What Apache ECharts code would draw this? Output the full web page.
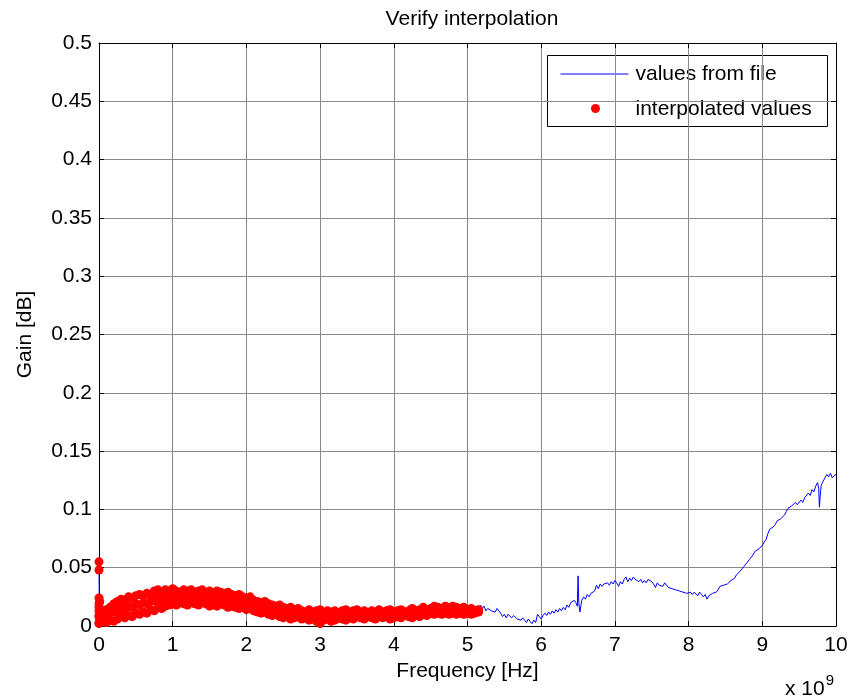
<!DOCTYPE html>
<html>
<head>
<meta charset="utf-8">
<script src="https://cdn.jsdelivr.net/npm/echarts@6/dist/echarts.min.js"></script>
<style>
html,body{margin:0;padding:0;background:#fff;}
#chart{width:851px;height:696px;}
</style>
</head>
<body>
<div id="chart"></div>
<script>
// ---- Data (frequency in units of 1e9 Hz, gain in dB) ----
var title = 'Verify interpolation';
var xName = 'Frequency [Hz]';
var yName = 'Gain [dB]';
var seriesNames = ['values from file', 'interpolated values'];
var xTicks = [0,1,2,3,4,5,6,7,8,9,10];
var yTicks = [0,0.05,0.1,0.15,0.2,0.25,0.3,0.35,0.4,0.45,0.5];

// "values from file" [frequency, gain]
var fileValues = [
 [0,0.055],[0.005,0.003],[0.05,0.010],[0.1,0.008],[0.2,0.012],[0.3,0.015],[0.4,0.017],[0.5,0.019],[0.6,0.020],[0.7,0.021],
 [0.8,0.023],[0.9,0.025],[1.0,0.026],[1.1,0.024],[1.2,0.025],[1.3,0.024],[1.4,0.025],[1.5,0.023],[1.6,0.024],[1.7,0.022],
 [1.8,0.022],[1.9,0.021],[2.0,0.019],[2.1,0.018],[2.2,0.016],[2.3,0.014],[2.4,0.013],[2.5,0.012],[2.6,0.011],[2.7,0.011],
 [2.8,0.009],[2.9,0.009],[3.0,0.008],[3.1,0.009],[3.2,0.009],[3.3,0.010],[3.4,0.010],[3.5,0.011],[3.6,0.009],[3.7,0.010],
 [3.8,0.011],[3.9,0.010],[4.0,0.010],[4.1,0.011],[4.2,0.011],[4.3,0.011],[4.4,0.013],[4.5,0.013],[4.6,0.014],[4.7,0.014],
 [4.8,0.014],[4.9,0.013],[5.0,0.012],[5.1,0.013],
 [5.15,0.016],[5.175,0.018],[5.2,0.015],[5.225,0.017],[5.25,0.013],[5.275,0.015],[5.3,0.016],[5.325,0.013],[5.35,0.014],[5.375,0.012],
 [5.4,0.015],[5.425,0.014],[5.45,0.011],[5.475,0.008],[5.5,0.010],[5.525,0.007],[5.55,0.010],[5.575,0.009],[5.6,0.007],[5.625,0.009],
 [5.65,0.008],[5.675,0.006],[5.7,0.007],[5.725,0.005],[5.75,0.007],[5.775,0.005],[5.8,0.003],[5.825,0.006],[5.85,0.004],[5.875,0.002],
 [5.9,0.005],[5.925,0.003],[5.95,0.010],[5.975,0.008],[6.0,0.006],[6.025,0.009],[6.05,0.011],[6.075,0.009],[6.1,0.012],[6.125,0.010],
 [6.15,0.013],[6.175,0.011],[6.2,0.014],[6.225,0.012],[6.25,0.015],[6.275,0.013],[6.3,0.016],[6.325,0.014],[6.35,0.018],[6.375,0.016],
 [6.4,0.020],[6.425,0.019],[6.45,0.022],[6.47,0.020],[6.49,0.017],[6.5,0.043],[6.51,0.020],[6.525,0.012],[6.55,0.022],[6.575,0.025],
 [6.6,0.023],[6.625,0.027],[6.65,0.025],[6.675,0.028],[6.7,0.027],[6.725,0.030],[6.75,0.035],[6.775,0.032],[6.8,0.036],[6.825,0.034],
 [6.85,0.036],[6.875,0.035],[6.9,0.037],[6.925,0.035],[6.95,0.038],[6.975,0.036],[7.0,0.039],[7.025,0.037],[7.05,0.034],[7.075,0.038],
 [7.1,0.036],[7.125,0.040],[7.15,0.042],[7.175,0.038],[7.2,0.041],[7.225,0.039],[7.25,0.042],[7.275,0.040],[7.3,0.041],[7.325,0.038],
 [7.35,0.040],[7.375,0.037],[7.4,0.039],[7.425,0.037],[7.45,0.040],[7.475,0.041],[7.5,0.038],[7.525,0.036],[7.55,0.033],[7.575,0.037],
 [7.6,0.035],[7.625,0.036],[7.65,0.034],[7.675,0.037],[7.7,0.035],[7.725,0.033],[7.75,0.034],[7.775,0.032],[7.8,0.033],[7.825,0.031],
 [7.85,0.032],[7.875,0.030],[7.9,0.031],[7.925,0.029],[7.95,0.030],[7.975,0.028],[8.0,0.027],[8.025,0.029],[8.05,0.027],[8.075,0.029],
 [8.1,0.028],[8.125,0.026],[8.15,0.029],[8.175,0.027],[8.2,0.025],[8.225,0.027],[8.25,0.023],[8.275,0.026],[8.3,0.025],[8.325,0.028],
 [8.35,0.027],[8.375,0.029],[8.4,0.031],[8.425,0.034],[8.45,0.033],[8.475,0.035],[8.5,0.034],[8.525,0.036],[8.55,0.037],[8.575,0.039],
 [8.6,0.038],[8.625,0.041],[8.65,0.044],[8.675,0.043],[8.7,0.047],[8.725,0.049],[8.75,0.051],[8.775,0.053],[8.8,0.052],[8.825,0.057],
 [8.85,0.059],[8.875,0.061],[8.9,0.064],[8.925,0.063],[8.95,0.066],[8.975,0.067],[9.0,0.069],[9.025,0.072],[9.05,0.074],[9.075,0.079],
 [9.1,0.083],[9.125,0.082],[9.15,0.085],[9.175,0.087],[9.2,0.090],[9.225,0.089],[9.25,0.092],[9.275,0.091],[9.3,0.095],[9.325,0.098],
 [9.35,0.101],[9.375,0.100],[9.4,0.103],[9.425,0.102],[9.45,0.106],[9.475,0.104],[9.5,0.105],[9.525,0.108],[9.55,0.106],[9.575,0.110],
 [9.6,0.111],[9.625,0.114],[9.65,0.112],[9.675,0.117],[9.7,0.115],[9.725,0.120],[9.75,0.123],[9.765,0.118],[9.775,0.102],[9.79,0.115],
 [9.8,0.121],[9.825,0.124],[9.85,0.127],[9.875,0.130],[9.9,0.128],[9.925,0.131],[9.95,0.127],[9.975,0.129],[10.0,0.130]
];

// "interpolated values": extra samples stacked at the start
var interpStartFreq = [0,0,0,0,0,0,0,0.01,0.01];
var interpStartGain = [0.055,0.048,0.024,0.019,0.013,0.008,0.003,0.021,0.006];

// "interpolated values": sampled frequencies, with the upper / middle / lower spread of the noisy band
var interpFreq = [
 0,0.05,0.1,0.15,0.2,0.25,0.3,0.35,0.4,0.45,
 0.5,0.55,0.6,0.65,0.7,0.75,0.8,0.85,0.9,0.95,
 1,1.05,1.1,1.15,1.2,1.25,1.3,1.35,1.4,1.45,
 1.5,1.55,1.6,1.65,1.7,1.75,1.8,1.85,1.9,1.95,
 2,2.05,2.1,2.15,2.2,2.25,2.3,2.35,2.4,2.45,
 2.5,2.55,2.6,2.65,2.7,2.75,2.8,2.85,2.9,2.95,
 3,3.05,3.1,3.15,3.2,3.25,3.3,3.35,3.4,3.45,
 3.5,3.55,3.6,3.65,3.7,3.75,3.8,3.85,3.9,3.95,
 4,4.05,4.1,4.15,4.2,4.25,4.3,4.35,4.4,4.45,
 4.5,4.55,4.6,4.65,4.7,4.75,4.8,4.85,4.9,4.95,
 5,5.05,5.1,5.15
];
var interpUpper = [
 0.016,0.013,0.014,0.016,0.019,0.021,0.023,0.022,0.025,0.024,
 0.026,0.027,0.026,0.028,0.027,0.030,0.031,0.029,0.031,0.030,
 0.032,0.030,0.029,0.031,0.030,0.031,0.029,0.030,0.031,0.029,
 0.030,0.028,0.030,0.029,0.028,0.029,0.027,0.026,0.027,0.025,
 0.024,0.025,0.022,0.021,0.020,0.021,0.019,0.018,0.017,0.018,
 0.016,0.015,0.016,0.014,0.015,0.013,0.012,0.014,0.012,0.013,
 0.014,0.012,0.013,0.012,0.013,0.011,0.013,0.014,0.012,0.013,
 0.014,0.012,0.013,0.011,0.013,0.012,0.014,0.012,0.013,0.014,
 0.012,0.013,0.014,0.012,0.013,0.015,0.013,0.014,0.016,0.014,
 0.015,0.017,0.016,0.015,0.017,0.015,0.017,0.016,0.015,0.016,
 0.014,0.015,0.013,0.014
];
var interpMiddle = [
 0.009,0.008,0.009,0.011,0.012,0.013,0.016,0.014,0.017,0.016,
 0.019,0.018,0.020,0.019,0.021,0.022,0.024,0.022,0.025,0.024,
 0.026,0.024,0.025,0.026,0.024,0.025,0.024,0.023,0.025,0.024,
 0.023,0.024,0.023,0.024,0.022,0.023,0.022,0.021,0.021,0.020,
 0.019,0.020,0.018,0.017,0.016,0.016,0.014,0.014,0.013,0.013,
 0.012,0.011,0.011,0.010,0.011,0.010,0.009,0.010,0.009,0.009,
 0.008,0.009,0.009,0.008,0.009,0.009,0.010,0.009,0.010,0.009,
 0.011,0.010,0.009,0.010,0.010,0.009,0.011,0.010,0.010,0.011,
 0.010,0.010,0.011,0.010,0.011,0.011,0.011,0.012,0.013,0.011,
 0.013,0.013,0.014,0.012,0.014,0.013,0.014,0.013,0.013,0.013,
 0.012,0.013,0.012,0.013
];
var interpLower = [
 0.002,0.004,0.003,0.005,0.004,0.006,0.008,0.007,0.009,0.008,
 0.011,0.010,0.012,0.011,0.014,0.013,0.016,0.015,0.017,0.018,
 0.019,0.018,0.020,0.019,0.018,0.020,0.019,0.018,0.020,0.019,
 0.017,0.018,0.017,0.019,0.018,0.016,0.017,0.016,0.015,0.016,
 0.014,0.015,0.013,0.012,0.011,0.012,0.010,0.009,0.010,0.008,
 0.007,0.008,0.006,0.007,0.008,0.006,0.007,0.005,0.006,0.004,
 0.002,0.005,0.006,0.004,0.005,0.007,0.006,0.005,0.007,0.006,
 0.008,0.007,0.006,0.008,0.007,0.006,0.008,0.007,0.008,0.006,
 0.007,0.008,0.007,0.009,0.008,0.007,0.009,0.008,0.010,0.009,
 0.011,0.010,0.011,0.010,0.011,0.010,0.011,0.010,0.011,0.010,
 0.011,0.010,0.011,0.012
];

// ---- Build ----
var interpData = [];
interpStartFreq.forEach(function(f,i){ interpData.push([f, interpStartGain[i]]); });
interpFreq.forEach(function(f,i){
  interpData.push([f, interpUpper[i]]);
  interpData.push([f, interpMiddle[i]]);
  interpData.push([f, interpLower[i]]);
});

var FONT = '"Liberation Sans", Arial, sans-serif';
var FS = 21;
var chart = echarts.init(document.getElementById('chart'), null, {renderer:'canvas'});

function baseAxis(pos, showLabel){
  return {
    type:'value', position:pos,
    axisLine:{show:true, onZero:false, lineStyle:{color:'#000', width:1}},
    axisTick:{show:true, inside:true, length:5, lineStyle:{color:'#000'}},
    splitLine:{show:false},
    axisLabel:{show:showLabel, color:'#000', fontSize:FS, fontFamily:FONT}
  };
}

var xBottom = baseAxis('bottom', true);
Object.assign(xBottom, {min:xTicks[0], max:xTicks[xTicks.length-1], interval:1,
  name:xName, nameLocation:'middle', nameGap:30,
  nameTextStyle:{color:'#000', fontSize:FS, fontFamily:FONT},
  splitLine:{show:true, lineStyle:{color:'#8a8a8a', width:1}}});
xBottom.axisLabel.margin = 9;
var xTop = baseAxis('top', false);
Object.assign(xTop, {min:xTicks[0], max:xTicks[xTicks.length-1], interval:1});

var yLeft = baseAxis('left', true);
Object.assign(yLeft, {min:yTicks[0], max:yTicks[yTicks.length-1], interval:0.05,
  name:yName, nameLocation:'middle', nameGap:63,
  nameTextStyle:{color:'#000', fontSize:FS, fontFamily:FONT},
  splitLine:{show:true, lineStyle:{color:'#8a8a8a', width:1}}});
yLeft.axisLabel.margin = 7;
yLeft.axisLabel.formatter = function(v){ return String(Math.round(v*100)/100); };
var yRight = baseAxis('right', false);
Object.assign(yRight, {min:yTicks[0], max:yTicks[yTicks.length-1], interval:0.05});

var option = {
  backgroundColor:'#fff',
  animation:false,
  textStyle:{fontFamily:FONT},
  title:{text:title, left:467, top:4, textAlign:'center',
    textStyle:{color:'#000', fontSize:FS, fontWeight:'normal', fontFamily:FONT}},
  grid:{left:99, right:15, top:43, bottom:70, containLabel:false},
  xAxis:[xBottom, xTop],
  yAxis:[yLeft, yRight],
  series:[
    {name:seriesNames[0], type:'line', xAxisIndex:0, yAxisIndex:0, data:fileValues,
     showSymbol:false, symbol:'none', lineStyle:{color:'#0000ff', width:1}, z:2},
    {name:seriesNames[1], type:'scatter', xAxisIndex:0, yAxisIndex:0, data:interpData,
     symbol:'circle', symbolSize:9, itemStyle:{color:'#ff0000', opacity:1, borderWidth:0}, z:3}
  ],
  graphic:[
    {type:'group', left:547, top:55, z:100, children:[
      {type:'rect', shape:{x:0,y:0,width:280,height:71}, style:{fill:'#fff', stroke:'#000', lineWidth:1}},
      {type:'line', shape:{x1:13,y1:18.5,x2:81,y2:18.5}, style:{stroke:'#0000ff', lineWidth:1}},
      {type:'text', x:88, y:19, style:{text:seriesNames[0], fill:'#000', font:FS+'px '+FONT, textVerticalAlign:'middle', verticalAlign:'middle'}},
      {type:'circle', shape:{cx:48, cy:53, r:4.5}, style:{fill:'#ff0000'}},
      {type:'text', x:88, y:54, style:{text:seriesNames[1], fill:'#000', font:FS+'px '+FONT, textVerticalAlign:'middle', verticalAlign:'middle'}}
    ]},
    {type:'text', left:785, top:673, style:{
      text:'{a|x 10}{b|9}',
      rich:{a:{fontSize:FS, fontFamily:FONT, fill:'#000', color:'#000', padding:[6,0,0,0]},
            b:{fontSize:15, fontFamily:FONT, fill:'#000', color:'#000', verticalAlign:'top', padding:[0,0,12,1]}},
      fill:'#000'}}
  ]
};
chart.setOption(option);
</script>
</body>
</html>
